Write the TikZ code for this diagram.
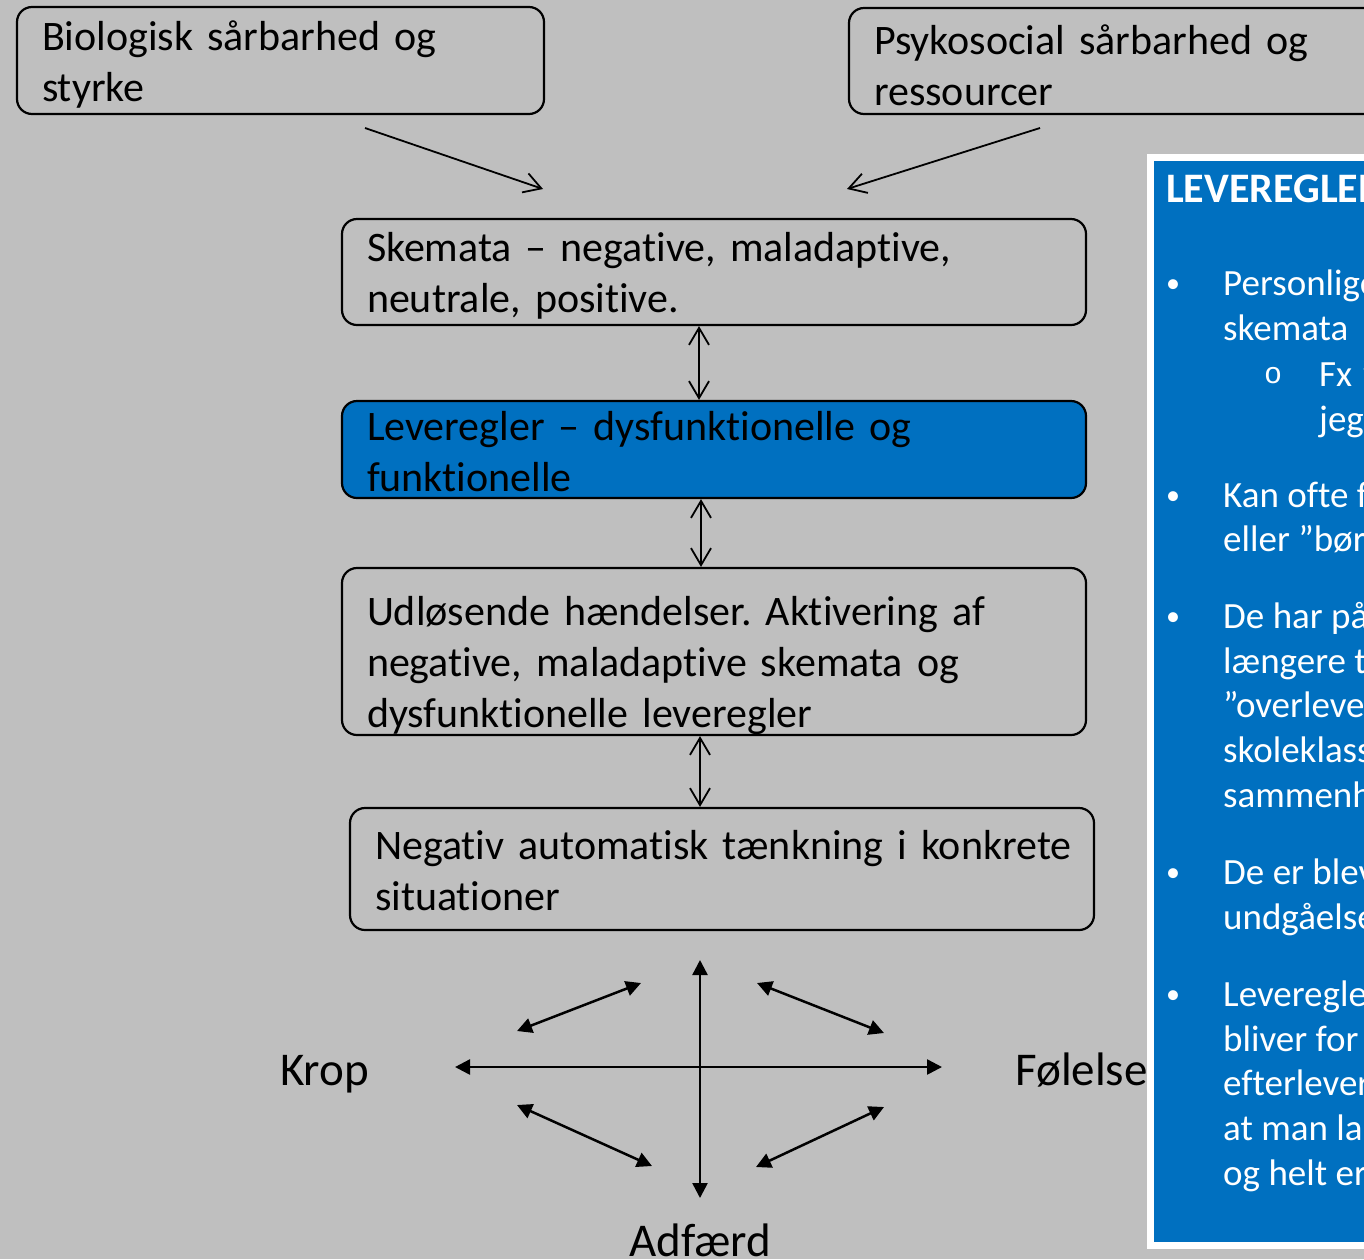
\documentclass[tikz,border=0pt]{standalone}
\usepackage{fontspec}
\setmainfont[Ligatures=NoCommon]{Carlito}
\newfontfamily\subbulletfont{Liberation Mono}
\usepackage{tikz}
\usetikzlibrary{arrows.meta}
\definecolor{slidegray}{RGB}{191,191,191}
\definecolor{slideblue}{RGB}{0,112,192}
\frenchspacing

\begin{document}
\begin{tikzpicture}[x=1pt,y=-1pt,
      box/.style  ={draw,line width=2.2pt,rounded corners=15pt,align=left,inner xsep=25pt,inner ysep=0pt,
                    font=\fontsize{42}{51}\selectfont},
      hibox/.style={box,fill=slideblue},
      lbl/.style  ={anchor=base west,inner sep=0pt,font=\fontsize{47}{56}\selectfont},
      ptxt/.style ={anchor=base west,inner sep=0pt,text=white,font=\fontsize{37}{45}\selectfont},
      feed/.style ={line width=1.8pt,-{Straight Barb[length=17pt,width=20pt]}},
      link/.style ={line width=1.8pt,{Straight Barb[length=17pt,width=20pt]}-{Straight Barb[length=17pt,width=20pt]}},
      cross/.style={line width=2.5pt,{Triangle[length=15pt,width=15pt]}-{Triangle[length=15pt,width=15pt]}}]
  \fill[slidegray] (0,0) rectangle (1364,1259);
  \useasboundingbox (0,0) rectangle (1364,1259);
  \clip (0,0) rectangle (1364,1259);
  % Sources of vulnerability
  \node[box,minimum width=527pt,minimum height=107pt,text width=477pt] (bio) at (280.5,60.5)
    {\rule{0pt}{38pt}Biologisk sårbarhed og\\styrke};
  \node[box,minimum width=531pt,minimum height=106pt,text width=481pt] (psy) at (1114.5,61)
    {\rule{0pt}{38pt}Psykosocial sårbarhed og\\ressourcer};
  % Chain of boxes
  \node[box,minimum width=744pt,minimum height=106pt,text width=694pt] (skemata) at (714,272)
    {\rule{0pt}{37pt}Skemata – negative, maladaptive,\\neutrale, positive.};
  \node[hibox,minimum width=744pt,minimum height=97pt,text width=694pt] (level) at (714,449.5)
    {\rule{0pt}{33pt}Leveregler – dysfunktionelle og\\funktionelle};
  \node[box,minimum width=744pt,minimum height=167pt,text width=694pt] (udl) at (714,651.5)
    {\rule{0pt}{50pt}Udløsende hændelser. Aktivering af\\negative, maladaptive skemata og\\\smash{dysfunktionelle leveregler}};
  \node[box,minimum width=744pt,minimum height=122pt,text width=694pt] (neg) at (722,869)
    {\rule{0pt}{33pt}\mbox{Negativ automatisk tænkning i konkrete}\\situationer};
  % Arrows into the schemas
  \coordinate (bioout) at (365,128);
  \coordinate (psyout) at (1040,128);
  \coordinate (skin1) at (543,189);
  \coordinate (skin2) at (847,189);
  \draw[feed] (bioout) -- (skin1);
  \draw[feed] (psyout) -- (skin2);
  % Two-way links
  \coordinate (ax1) at (699,0);
  \coordinate (ax2) at (701,0);
  \coordinate (ax3) at (700,0);
  \draw[link] (skemata.south -| ax1) -- (level.north -| ax1);
  \draw[link] (level.south -| ax2) -- (udl.north -| ax2);
  \draw[link] (udl.south -| ax3) -- (neg.north -| ax3);
  % Labels round the cross
  \node[lbl] (krop) at (280,1085) {Krop};
  \node[lbl] (folelse) at (1015,1085) {Følelse};
  \node[lbl] (adfaerd) at (629,1256) {Adfærd};
  % Cross and diagonals
  \coordinate (up) at (700,960);
  \coordinate (dn) at (700,1198);
  \coordinate (lt) at (455,1067);
  \coordinate (rt) at (942,1067);
  \draw[cross] (up) -- (dn);
  \draw[cross] (lt) -- (rt);
  \foreach \ax/\ay/\bx/\by [count=\i] in {517/1031/641/983,757/983/884/1033,517/1105/652/1166,884/1107/756/1167}{
    \coordinate (da\i) at (\ax,\ay);
    \coordinate (db\i) at (\bx,\by);
    \draw[cross] (da\i) -- (db\i);
  }
  % Side panel
  \node[draw=white,fill=slideblue,line width=7pt,minimum width=260pt,minimum height=1088pt,
        anchor=north west,inner sep=0pt] (panel) at (1147,153.5) {};
  \node[ptxt,font=\bfseries\fontsize{42}{50}\selectfont] (ptitle) at (1166,202) {LEVEREGLER};
  \foreach \yy [count=\i] in {284,496,617,873,995}
    \node[ptxt,anchor=base,font=\fontsize{28}{45}\selectfont] (bul\i) at (1173,\yy+8) {•};
  \node[ptxt,anchor=base,font=\subbulletfont\fontsize{30}{45}\selectfont] (sbul) at (1273,383) {o};
  \foreach \yy/\xx/\txt [count=\i] in {284/1223/{Personlige},329/1223/{skemata},375/1319/{Fx ”},
      420/1319/{jeg},496/1223/{Kan ofte f},540/1223/{eller ”bør},617/1223/{De har på},
      662/1223/{længere t},706/1223/{”overleve},751/1223/{skoleklass},796/1223/{sammenh},
      873/1223/{De er blev},918/1223/{undgåelse},995/1223/{Leveregle},1040/1223/{bliver for},
      1084/1223/{efterlever},1129/1223/{at man la},1174/1223/{og helt er}}
    \node[ptxt] (pl\i) at (\xx,\yy+11) {\txt};
\end{tikzpicture}
\end{document}
